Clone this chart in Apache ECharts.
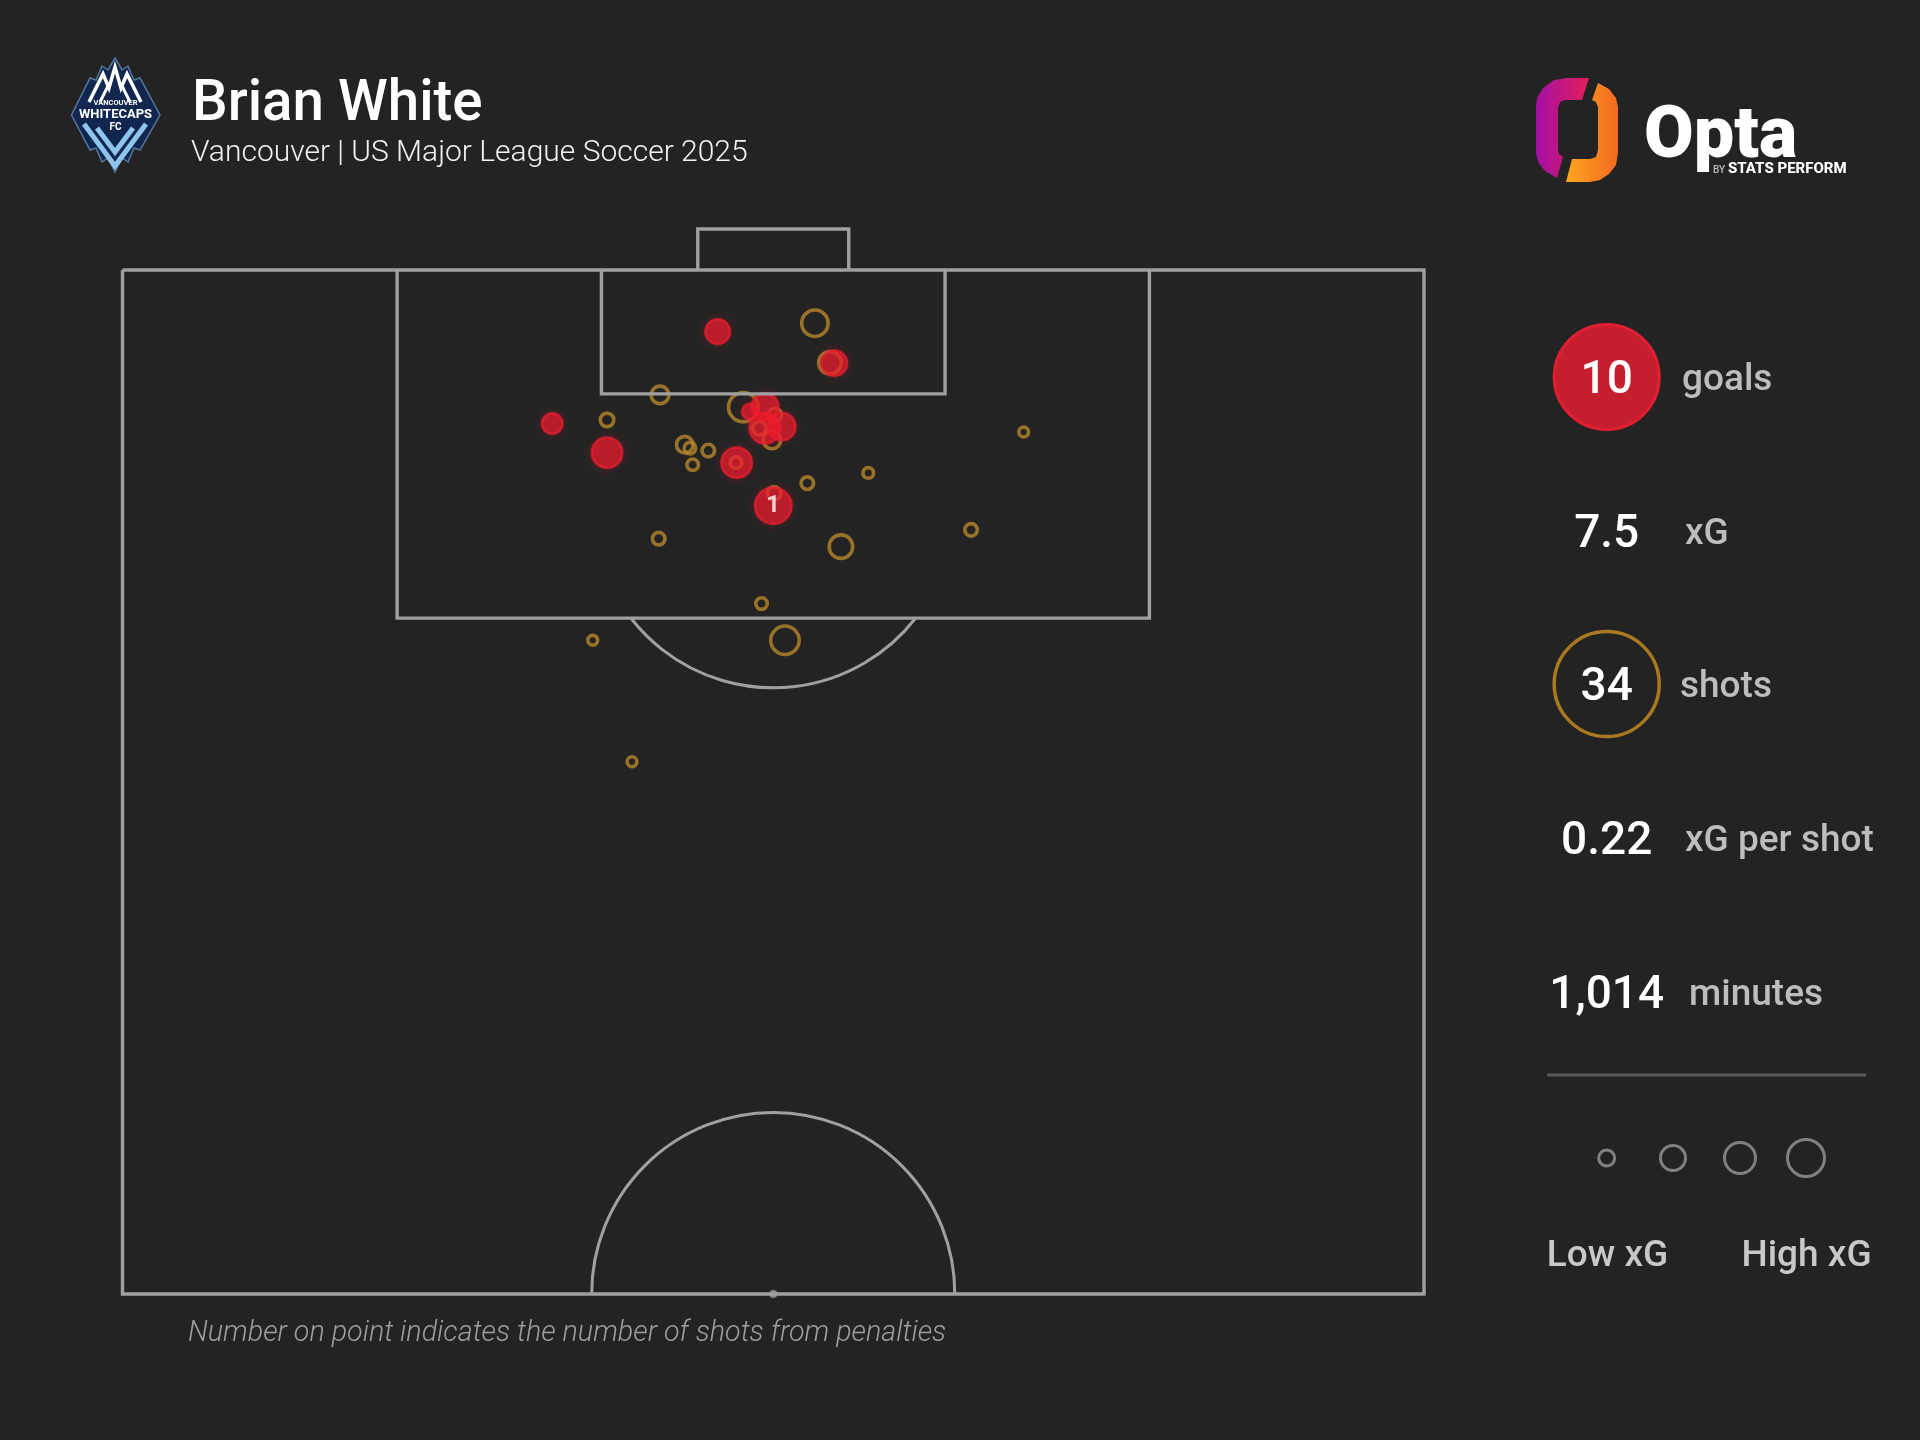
<!DOCTYPE html>
<html>
<head>
<meta charset="utf-8">
<title>Brian White shot map</title>
<script src="https://cdn.jsdelivr.net/npm/echarts@6/dist/echarts.min.js"></script>
<style>
html,body{margin:0;padding:0;background:#232323;}
#main{width:1920px;height:1440px;}
</style>
</head>
<body>
<div id="main"></div>
<script>
// shots, opta pitch coords (x across, y towards goal), xG estimated from circle size
var missX  = [53.2,54.36,41.3,37.23,47.7,43.2,43.6,45.01,43.81,47.14,52.62,57.3,41.2,55.2,65.2,69.24,49.1,50.9,36.13,39.15,49.9,48.93,50.06,50.13];
var missY  = [97.4,95.47,93.9,92.68,93.3,91.47,91.3,91.18,90.49,90.59,89.59,90.09,86.88,86.49,87.31,92.09,83.71,81.92,81.92,75.99,91.7,92.27,89.1,92.92];
var missXg = [0.35,0.22,0.10,0.035,0.47,0.08,0.016,0.025,0.016,0.016,0.025,0.01,0.025,0.25,0.025,0.005,0.016,0.43,0.005,0.005,0.10,0.035,0.035,0.035];

var goalX  = [45.73,54.69,33.02,37.23,47.19,50.0,49.37,48.21,49.36,50.65];
var goalY  = [96.99,95.45,92.5,91.08,90.59,88.49,93.33,93.08,92.27,92.35];
var goalXg = [0.25,0.28,0.14,0.47,0.47,0.76,0.32,0.05,0.47,0.35];
var goalPens = [0,0,0,0,0,1,0,0,0,0];

// pitch lines
var pitchOutline = [[0,100],[100,100],[100,50],[0,50],[0,100]];
var goalFrame    = [[44.2,100],[44.2,102],[55.8,102],[55.8,100]];
var sixYardBox   = [[36.8,100],[36.8,93.95],[63.2,93.95],[63.2,100]];
var penaltyBox   = [[21.1,100],[21.1,83],[78.9,83],[78.9,100]];
var pitchSegments = [pitchOutline,goalFrame,sixYardBox,penaltyBox];
// [x, y, radius in x units, start deg, end deg]
var pitchArcs = [[50,88.4,13.85,38,142],[50,50,13.95,180,360]];

var statValues = ['10','7.5','34','0.22','1,014'];
var statLabels = ['goals','xG','shots','xG per shot','minutes'];

var titleText = 'Brian White';
var subtitleText = 'Vancouver | US Major League Soccer 2025';
var footnoteText = 'Number on point indicates the number of shots from penalties';

var myChart = echarts.init(document.getElementById('main'));

var lineColor = '#a0a0a0';
var ringColor = '#b5862a';

function sizeOf(xg){
    return 7.5 + 32 * Math.sqrt(xg);
}

function zipShots(xs,ys,xgs,pens){
    var res = [];
    for (var i = 0; i < xs.length; i++) {
        res.push([xs[i],ys[i],xgs[i],pens ? pens[i] : 0]);
    }
    return res;
}

var series = [];
for (var i = 0; i < pitchSegments.length; i++) {
    series.push({
        type:'line',
        data:pitchSegments[i],
        symbol:'none',
        silent:true,
        clip:false,
        animation:false,
        lineStyle:{color:lineColor,width:3.4,join:'miter'}
    });
}
// arcs
series.push({
    type:'custom',
    coordinateSystem:'cartesian2d',
    data:pitchArcs,
    silent:true,
    clip:false,
    animation:false,
    renderItem:function(params,api){
        var c = api.coord([api.value(0),api.value(1)]);
        var r = api.size([api.value(2),0])[0];
        return {
            type:'arc',
            shape:{cx:c[0],cy:c[1],r:r,
                startAngle:api.value(3) * Math.PI / 180,
                endAngle:api.value(4) * Math.PI / 180,
                clockwise:true},
            style:{stroke:lineColor,lineWidth:3,fill:null}
        };
    }
});
// centre spot
series.push({
    type:'scatter',
    data:[[50,50]],
    symbolSize:8,
    silent:true,
    clip:false,
    animation:false,
    itemStyle:{color:lineColor}
});
series.push({
    name:'shots',
    type:'scatter',
    data:zipShots(missX,missY,missXg),
    symbolSize:function(val){ return sizeOf(val[2]); },
    clip:false,
    animation:false,
    itemStyle:{color:'rgba(0,0,0,0)',borderColor:ringColor,borderWidth:3.6}
});
series.push({
    name:'goals',
    type:'scatter',
    data:zipShots(goalX,goalY,goalXg,goalPens),
    symbolSize:function(val){ return sizeOf(val[2]) + 1; },
    clip:false,
    animation:false,
    itemStyle:{
        color:'rgba(238,28,46,0.85)',
        borderColor:'rgba(238,28,46,0.9)',
        borderWidth:2.6,
        shadowBlur:9,
        shadowColor:'rgba(235,30,50,0.3)'
    },
    label:{
        show:true,
        position:'inside',
        formatter:function(p){ return p.value[3] > 0 ? String(p.value[3]) : ''; },
        color:'#fff',
        fontFamily:'Roboto',
        fontWeight:'bold',
        fontSize:24
    }
});

function txt(text,x,y,font,fill,align){
    return {type:'text',silent:true,style:{text:text,x:x,y:y,font:font,fill:fill,align:align || 'left',verticalAlign:'middle'}};
}
function ring(cx,cy,r,stroke,width,fill){
    return {type:'circle',silent:true,shape:{cx:cx,cy:cy,r:r},style:{stroke:stroke,lineWidth:width,fill:fill || 'transparent'}};
}
function poly(points,stroke,width){
    return {type:'polyline',silent:true,shape:{points:points},style:{stroke:stroke,lineWidth:width,fill:null,lineJoin:'miter'}};
}
function grad(c0,c1){
    return {type:'linear',x:0,y:0,x2:1,y2:0,colorStops:[{offset:0,color:c0},{offset:1,color:c1}]};
}

var statFont = '500 46px Roboto';
var labelFont = '500 37px Roboto';
var statCx = 1606.7;
var statY = [381.5,535.5,688.5,842.5,996.5];
var labelX = [1682,1685,1680,1685,1689];

var graphics = [
    txt(titleText,192,106,'500 56.5px Roboto','#ffffff'),
    txt(subtitleText,191,153,'300 30px Roboto','#f2f2f2'),
    txt(footnoteText,188,1334,'italic 300 28.7px Roboto','#9e9e9e'),

    // club crest
    {type:'polygon',silent:true,shape:{points:[[115,58],[122,70],[128,66],[134,80],[140,78],[160,115],[140,150],[134,148],[128,162],[122,158],[115,172],[108,158],[102,162],[96,148],[90,150],[71.5,115],[90,78],[96,80],[102,66],[108,70]]},
        style:{fill:'#12274f',stroke:'#55779e',lineWidth:1.5}},
    poly([[89,102],[103,74],[109,88],[115,67],[121,88],[127,74],[141,102]],'#ffffff',3.5),
    poly([[100,102],[108,86]],'#ffffff',3),
    poly([[130,102],[122,86]],'#ffffff',3),
    poly([[84,124],[115,166],[146,124]],'#8fc4ec',5),
    poly([[97,128],[115,152],[133,128]],'#8fc4ec',5),
    txt('VANCOUVER',115.5,103.5,'bold 7.5px Roboto','#ffffff','center'),
    txt('WHITECAPS',115.5,115,'bold 13px Roboto','#ffffff','center'),
    txt('FC',115.5,127,'bold 10px Roboto','#ffffff','center'),

    // opta logo
    {type:'polygon',silent:true,shape:{points:[[1589,78],[1567,78],[1554,80],[1543,88],[1537,98],[1536,107],[1536,153],[1538,162],[1545,171],[1557,178],[1563,157],[1559,154],[1558,150],[1558,108],[1560,102],[1565,100],[1582,100]]},
        style:{fill:grad('#a40fa6','#e21f58')}},
    {type:'polygon',silent:true,shape:{points:[[1598,83],[1609,89],[1616,98],[1618,107],[1618,153],[1616,165],[1609,174],[1600,180],[1590,182],[1566,182],[1572,159],[1590,159],[1596,157],[1598,150],[1598,107],[1596,102],[1592,100]]},
        style:{fill:grad('#ffa61c','#f26a22')}},
    txt('Opta',1644,139,'900 72px Roboto','#ffffff'),
    txt('BY',1713,170,'500 10px Roboto','#bdbdbd'),
    txt('STATS PERFORM',1728,169,'800 15px Roboto','#ffffff'),

    // side panel
    {type:'circle',silent:true,shape:{cx:statCx,cy:377,r:52.5},style:{fill:'#c51e2e',stroke:'#e11f30',lineWidth:3}},
    ring(statCx,684,52.5,'#a9791f',3.5),

    {type:'line',silent:true,shape:{x1:1547,y1:1075,x2:1866,y2:1075},style:{stroke:'#5b5b5b',lineWidth:3}},
    ring(statCx,1158,8,'#808080',3),
    ring(1673,1158,12.5,'#808080',3),
    ring(1740,1158,15.5,'#808080',3),
    ring(1806,1158,18.5,'#808080',3),
    txt('Low xG',1607.5,1256.5,labelFont,'#c8c8c8','center'),
    txt('High xG',1806.5,1256.5,labelFont,'#c8c8c8','center')
];
for (var s = 0; s < statValues.length; s++) {
    graphics.push(txt(statValues[s],statCx,statY[s],statFont,'#ffffff','center'));
    graphics.push(txt(statLabels[s],labelX[s],statY[s] - 1,labelFont,'#bdbdbd'));
}

var option = {
    backgroundColor:'#232323',
    animation:false,
    grid:{left:122.5,top:229,width:1301.5,height:1065},
    xAxis:{type:'value',min:0,max:100,show:false},
    yAxis:{type:'value',min:50,max:102,show:false},
    graphic:{elements:graphics},
    series:series
};

myChart.setOption(option,true);
window.onresize = myChart.resize;
</script>
</body>
</html>
